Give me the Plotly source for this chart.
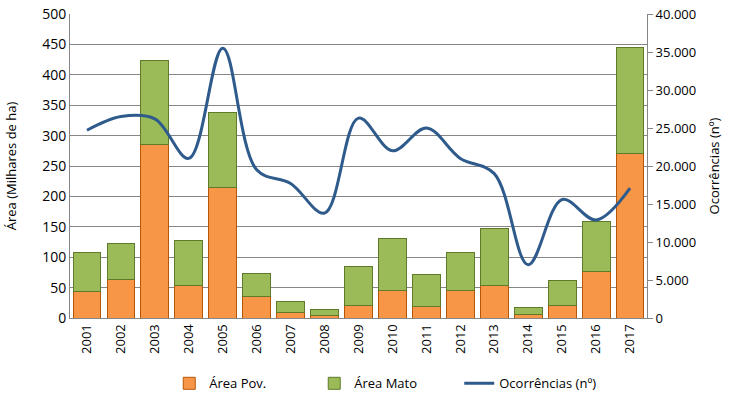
import plotly.graph_objects as go

years = [str(y) for y in range(2001, 2018)]
area_pov = [43, 64, 286, 54, 214, 35, 9, 4.5, 21, 46, 18.6, 46, 53, 6, 20, 77, 271]
area_total = [107, 123, 424, 128, 338, 73.5, 27, 14, 84, 131, 71, 108, 147.5, 17, 62, 158, 445]
area_mato = [round(t - p, 1) for t, p in zip(area_total, area_pov)]
ocorrencias = [24700, 26500, 26200, 21000, 35500, 19500, 17700, 13800, 26300, 22000,
               25000, 21000, 19000, 7000, 15600, 12900, 17100]

FONT = "Open Sans"
fig = go.Figure()
fig.add_trace(go.Bar(x=years, y=area_pov, name="Área Pov.",
                     marker=dict(color="#F79646", line=dict(color="#B65708", width=1))))
fig.add_trace(go.Bar(x=years, y=area_mato, name="Área Mato",
                     marker=dict(color="#9BBB59", line=dict(color="#5E7A2A", width=1))))
fig.add_trace(go.Scatter(x=years, y=ocorrencias, name="Ocorrências (nº)", yaxis="y2",
                         mode="lines", line=dict(color="#2F5B8C", width=3, shape="spline", smoothing=1)))

fig.update_layout(
    width=733, height=400,
    barmode="stack", bargap=0.18,
    separators=",.",
    paper_bgcolor="white", plot_bgcolor="white",
    margin=dict(l=70, r=86, t=14, b=82, autoexpand=False),
    font=dict(family=FONT, size=13, color="#000000"),
    xaxis=dict(tickangle=-90, showline=True, linecolor="#868686", linewidth=1, automargin=False,
               ticks="", showgrid=False, tickfont=dict(size=13), ticklabeloverflow="allow"),
    yaxis=dict(range=[0, 500], dtick=50, showgrid=True, gridcolor="#868686", gridwidth=1,
               showline=True, linecolor="#868686", zeroline=False, automargin=False,
               ticklabeloverflow="allow",
               title=dict(text="Área (Milhares de ha)", font=dict(size=13), standoff=22),
               tickfont=dict(size=14)),
    yaxis2=dict(range=[0, 40000], dtick=5000, overlaying="y", side="right", showgrid=False,
                showline=True, linecolor="#868686", ticks="outside", ticklen=5, tickcolor="#868686",
                tickformat=",d", zeroline=False, automargin=False, ticklabeloverflow="allow",
                title=dict(text="Ocorrências (nº)", font=dict(size=13), standoff=14),
                tickfont=dict(size=13)),
    legend=dict(orientation="h", x=0.172, xanchor="left", y=-0.215, yanchor="middle",
                font=dict(size=13), entrywidth=100, traceorder="normal"),
)
fig.write_html("out.html", config={"displayModeBar": False},
               post_script="document.body.style.margin='0';")
